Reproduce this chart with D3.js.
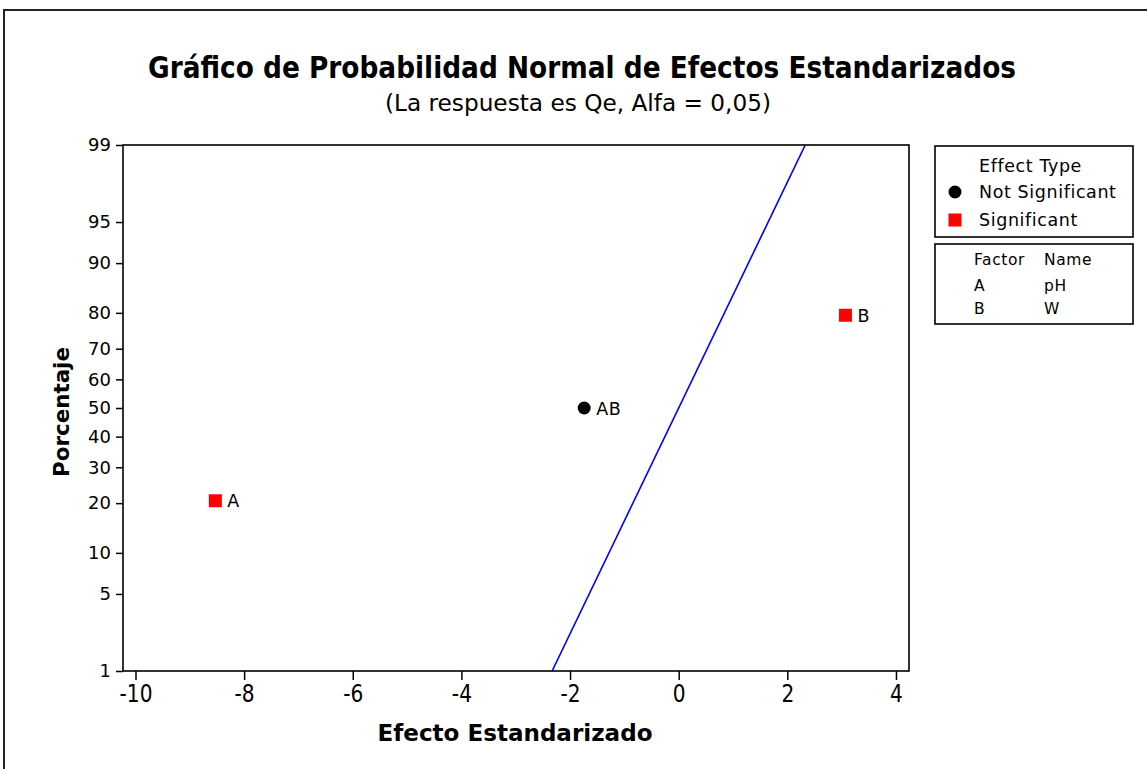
<!DOCTYPE html>
<html><head><meta charset="utf-8">
<script src="https://cdn.jsdelivr.net/npm/d3@7"></script>
<style>body{margin:0;background:#fff}svg{display:block}</style>
</head><body>
<svg id="c" width="1147" height="769"></svg>
<script>
// ---- data ----
const factors = ["A", "B", "AB"];
const effects = [-8.53, 3.07, -1.74];
const percents = [20.6, 79.4, 50];
const significant = [true, true, false];
const factorNames = ["pH", "W", ""];
const yTickPercents = [1, 5, 10, 20, 30, 40, 50, 60, 70, 80, 90, 95, 99];
const xTickValues = [-10, -8, -6, -4, -2, 0, 2, 4];
const lineEffects = [-2.33, 2.33];
const linePercents = [1, 99];
const legendTypes = ["Not Significant", "Significant"];

// inverse standard normal (Acklam)
function normInv(p){
  const a=[-3.969683028665376e+01,2.209460984245205e+02,-2.759285104469687e+02,1.383577518672690e+02,-3.066479806614716e+01,2.506628277459239e+00];
  const b=[-5.447609879822406e+01,1.615858368580409e+02,-1.556989798598866e+02,6.680131188771972e+01,-1.328068155288572e+01];
  const c=[-7.784894002430293e-03,-3.223964580411365e-01,-2.400758277161838e+00,-2.549671664286117e+00,4.374664141464968e+00,2.938163982698783e+00];
  const d=[7.784695709041462e-03,3.224671290700398e-01,2.445134137142996e+00,3.754408661907416e+00];
  const pl=0.02425, ph=1-pl; let q,r;
  if(p<pl){q=Math.sqrt(-2*Math.log(p));return (((((c[0]*q+c[1])*q+c[2])*q+c[3])*q+c[4])*q+c[5])/((((d[0]*q+d[1])*q+d[2])*q+d[3])*q+1);}
  if(p<=ph){q=p-0.5;r=q*q;return (((((a[0]*r+a[1])*r+a[2])*r+a[3])*r+a[4])*r+a[5])*q/(((((b[0]*r+b[1])*r+b[2])*r+b[3])*r+b[4])*r+1);}
  q=Math.sqrt(-2*Math.log(1-p));return -(((((c[0]*q+c[1])*q+c[2])*q+c[3])*q+c[4])*q+c[5])/((((d[0]*q+d[1])*q+d[2])*q+d[3])*q+1);
}

const svg = d3.select("#c");
const FONT = "'DejaVu Sans', Verdana, sans-serif";
const L=123, R=909, T=145, B=671;

// outer frame
svg.append("rect").attr("x",4).attr("y",10).attr("width",1200).attr("height",800)
  .attr("fill","none").attr("stroke","#222").attr("stroke-width",2);

const x = d3.scaleLinear().domain([-10.23, 4.24]).range([L, R]);
const zDom = [normInv(0.01), normInv(0.99)];
const yz = d3.scaleLinear().domain(zDom).range([B, T]);
const y = p => yz(normInv(p/100));

// titles
svg.append("text").attr("x",582).attr("y",78).attr("text-anchor","middle")
  .attr("font-family",FONT).attr("font-weight","bold").attr("font-size",30)
  .attr("textLength",868).attr("lengthAdjust","spacingAndGlyphs")
  .text("Gráfico de Probabilidad Normal de Efectos Estandarizados");
svg.append("text").attr("x",578).attr("y",111).attr("text-anchor","middle")
  .attr("font-family",FONT).attr("font-size",23)
  .attr("textLength",386).attr("lengthAdjust","spacingAndGlyphs")
  .text("(La respuesta es Qe, Alfa = 0,05)");

// clip
svg.append("clipPath").attr("id","clip").append("rect")
  .attr("x",L).attr("y",T).attr("width",R-L).attr("height",B-T);

// fitted line
const line = d3.line().x(d=>x(d[0])).y(d=>y(d[1]));
svg.append("path").datum(lineEffects.map((e,i)=>[e,linePercents[i]]))
  .attr("clip-path","url(#clip)")
  .attr("d",line).attr("fill","none").attr("stroke","#0000ff").attr("stroke-width",1.6);

// axes
const xAxis = d3.axisBottom(x).tickValues(xTickValues).tickFormat(d=>String(d))
  .tickSize(9).tickSizeOuter(0).tickPadding(5);
const gx = svg.append("g").attr("transform",`translate(0,${B})`).call(xAxis);
gx.select(".domain").remove();
gx.selectAll(".tick line").attr("stroke","#000").attr("stroke-width",1.5);
gx.selectAll(".tick text").attr("font-family",FONT).attr("font-size",24).attr("fill","#000")
  .attr("transform","scale(0.84,1)");

const yAxis = d3.axisLeft(yz).tickValues(yTickPercents.map(p=>normInv(p/100)))
  .tickFormat((d,i)=>yTickPercents[i]).tickSize(7).tickSizeOuter(0).tickPadding(5);
const gy = svg.append("g").attr("transform",`translate(${L},0)`).call(yAxis);
gy.select(".domain").remove();
gy.selectAll(".tick line").attr("stroke","#000").attr("stroke-width",1.5);
gy.selectAll(".tick text").attr("font-family",FONT).attr("font-size",18).attr("fill","#000");

// plot frame
svg.append("rect").attr("x",L).attr("y",T).attr("width",R-L).attr("height",B-T)
  .attr("fill","none").attr("stroke","#000").attr("stroke-width",1.6);

// axis titles
svg.append("text").attr("x",515).attr("y",741).attr("text-anchor","middle")
  .attr("font-family",FONT).attr("font-weight","bold").attr("font-size",23)
  .attr("textLength",275).attr("lengthAdjust","spacingAndGlyphs")
  .text("Efecto Estandarizado");
svg.append("text").attr("transform","translate(69,412) rotate(-90)").attr("text-anchor","middle")
  .attr("font-family",FONT).attr("font-weight","bold").attr("font-size",22)
  .attr("textLength",130).attr("lengthAdjust","spacingAndGlyphs")
  .text("Porcentaje");

// points
const pts = svg.append("g");
factors.forEach((f,i)=>{
  const cx = x(effects[i]), cy = y(percents[i]);
  if(significant[i]){
    pts.append("rect").attr("x",cx-6.5).attr("y",cy-6.5).attr("width",13).attr("height",13).attr("fill","#ff0000");
  } else {
    pts.append("circle").attr("cx",cx).attr("cy",cy).attr("r",6.5).attr("fill","#000");
  }
  pts.append("text").attr("x",cx+12).attr("y",cy+6.5).attr("font-family",FONT).attr("font-size",17.5)
    .attr("letter-spacing",0.6).attr("fill","#000").text(f);
});

// legend 1
const lg = svg.append("g");
lg.append("rect").attr("x",935).attr("y",146).attr("width",198).attr("height",91)
  .attr("fill","none").attr("stroke","#000").attr("stroke-width",1.6);
lg.append("text").attr("x",979).attr("y",172).attr("font-family",FONT).attr("font-size",17.5)
  .attr("letter-spacing",0.6).text("Effect Type");
legendTypes.forEach((t,i)=>{
  const yy = 192 + i*28;
  if(i===0) lg.append("circle").attr("cx",955).attr("cy",yy).attr("r",6.5).attr("fill","#000");
  else lg.append("rect").attr("x",948.5).attr("y",yy-6.5).attr("width",13).attr("height",13).attr("fill","#ff0000");
  lg.append("text").attr("x",979).attr("y",yy+6).attr("font-family",FONT).attr("font-size",17.5)
    .attr("letter-spacing",0.6).text(t);
});
// legend 2
lg.append("rect").attr("x",935).attr("y",244).attr("width",198).attr("height",80)
  .attr("fill","none").attr("stroke","#000").attr("stroke-width",1.6);
const ls = 0.6;
lg.append("text").attr("x",974).attr("y",265).attr("font-family",FONT).attr("font-size",15.5).attr("letter-spacing",ls).text("Factor");
lg.append("text").attr("x",1044).attr("y",265).attr("font-family",FONT).attr("font-size",15.5).attr("letter-spacing",ls).text("Name");
factors.slice(0,2).forEach((f,i)=>{
  const yy = 291 + i*23;
  lg.append("text").attr("x",974).attr("y",yy).attr("font-family",FONT).attr("font-size",15.5).attr("letter-spacing",ls).text(f);
  lg.append("text").attr("x",1044).attr("y",yy).attr("font-family",FONT).attr("font-size",15.5).attr("letter-spacing",ls).text(factorNames[i]);
});
</script>
</body></html>
